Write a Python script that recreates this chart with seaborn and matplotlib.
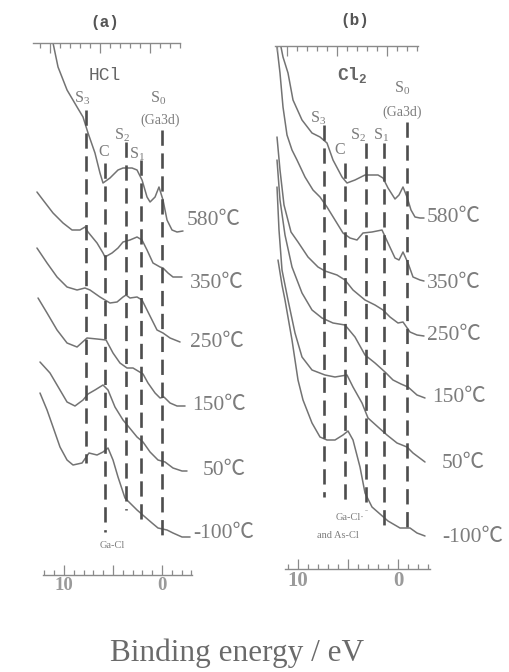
import numpy as np
import matplotlib
matplotlib.use("Agg")
import matplotlib.pyplot as plt
import seaborn as sns

sns.set_theme(style="white")
plt.rcParams["font.family"] = ["Liberation Serif", "Noto Sans CJK JP", "DejaVu Sans"]
plt.rcParams["mathtext.fontset"] = "custom"
plt.rcParams["mathtext.rm"] = "Liberation Serif"
plt.rcParams["lines.scale_dashes"] = False

# ---------------------------------------------------------------- data
temps = ["580℃", "350℃", "250℃", "150℃", "50℃", "-100℃"]
peak_names = ["S$_\\mathregular{3}$", "C", "S$_\\mathregular{2}$", "S$_\\mathregular{1}$"]

# (a) HCl exposure: binding energy (eV) and intensity (a.u., relative to curve offset)
hcl_e_580 = [11.12, 10.61, 9.69, 8.67, 8.06, 7.55, 6.84, 6.33, 6.02, 5.31, 4.49, 3.98, 3.06, 2.55,
             2.04, 1.53, 1.22, 0.71, 0.31, -0.10, -0.51, -1.02, -1.53, -2.14]
hcl_i_580 = [188, 164, 141, 124, 114, 98, 78, 58, 48, 53, 61, 63, 63, 61, 51, 34, 29, 34, 44, 31,
             11, 1, -1, 0]
hcl_e_350 = [12.76, 12.14, 11.12, 10.10, 9.18, 8.37, 7.86, 7.55, 6.63, 6.02, 5.82, 5.10, 4.49, 3.98,
             3.27, 2.55, 2.04, 1.53, 0.92, 0.20, -0.10, -0.61, -1.12, -2.04]
hcl_i_350 = [85, 77, 64, 54, 47, 47, 50, 45, 34, 24, 20, 24, 29, 35, 37, 40, 37, 27, 14, 10, 9, 4, 0, 0]
hcl_e_250 = [12.76, 11.73, 10.71, 9.69, 8.67, 7.86, 7.35, 6.33, 5.31, 4.59, 3.98, 3.67, 3.27, 2.55,
             2.04, 1.53, 1.02, 0.51, -0.10, -0.82, -1.84]
hcl_i_250 = [94, 79, 65, 55, 52, 54, 52, 45, 39, 40, 45, 47, 44, 45, 42, 32, 22, 12, 9, 4, 0]
hcl_e_150 = [12.65, 11.73, 10.71, 9.69, 8.67, 7.65, 6.63, 5.71, 5.00, 4.29, 3.57, 2.96, 1.94, 1.43,
             0.71, 0.20, -0.20, -0.82, -1.53, -2.35]
hcl_i_150 = [108, 93, 76, 63, 59, 68, 67, 66, 53, 43, 38, 38, 32, 23, 13, 8, 9, 3, 0, 0]
hcl_e_50 = [12.45, 11.43, 10.41, 9.69, 8.88, 8.06, 7.55, 6.84, 6.02, 5.51, 4.80, 3.98, 3.47, 2.55,
            1.94, 1.22, 0.41, -0.31, -1.12, -2.04, -2.55]
hcl_i_50 = [109, 98, 81, 69, 65, 71, 77, 81, 86, 81, 64, 51, 45, 34, 29, 19, 11, 9, 3, 0, 0]
hcl_e_m100 = [12.45, 11.73, 11.12, 10.41, 9.69, 9.08, 8.16, 7.45, 6.63, 6.02, 5.51, 5.00, 4.49, 3.78,
              3.27, 2.55, 1.73, 1.02, 0.41, -0.51, -1.12, -2.04, -2.86]
hcl_i_m100 = [144, 127, 110, 90, 77, 72, 74, 84, 82, 85, 89, 77, 60, 39, 34, 27, 20, 14, 9, 7, 4, 0, 0]
hcl_offsets = [344, 298, 233, 169, 104, 38]
hcl_peak_e = [7.8, 5.8, 3.7, 2.1, 0.0]

# (b) Cl2 exposure
cl2_e_580 = [11.7, 11.5, 11.0, 10.5, 9.6, 8.6, 7.8, 7.1, 6.5, 5.6, 5.1, 4.3, 3.3, 2.0, 1.5, 1.0,
             0.3, -0.1, -0.5, -0.9, -1.3, -1.7, -2.2, -2.6]
cl2_i_580 = [171, 161, 145, 118, 98, 85, 81, 75, 58, 41, 35, 38, 43, 43, 40, 30, 19, 23, 31, 21,
             8, 1, 0, 0]
cl2_e_350 = [12.1, 11.8, 11.5, 11.1, 10.6, 10.1, 9.3, 8.5, 7.8, 7.1, 6.3, 5.5, 4.8, 4.1, 3.5, 2.6,
             1.6, 1.0, 0.3, -0.1, -0.5, -1.0, -1.5, -2.2, -2.6]
cl2_i_350 = [234, 208, 174, 146, 131, 121, 104, 91, 84, 74, 61, 48, 43, 41, 48, 49, 51, 38, 23, 21,
             29, 18, 4, 1, 0]
cl2_e_250 = [12.1, 11.8, 11.4, 10.7, 10.0, 9.0, 8.0, 7.3, 6.1, 5.3, 4.5, 3.3, 2.3, 1.5, 0.8, 0.0,
             -0.5, -1.2, -1.9, -2.6]
cl2_i_250 = [199, 166, 131, 104, 94, 79, 69, 65, 61, 56, 46, 36, 31, 26, 19, 13, 14, 4, 1, 0]
cl2_e_150 = [12.1, 11.8, 11.3, 10.6, 9.6, 8.6, 7.6, 6.5, 5.3, 4.3, 3.3, 2.3, 1.3, 0.5, -0.3, -1.0,
             -1.9, -2.7]
cl2_i_150 = [238, 198, 163, 131, 105, 88, 80, 75, 73, 61, 43, 35, 26, 18, 14, 11, 3, 0]
cl2_e_50 = [12.1, 11.9, 11.6, 11.0, 10.3, 9.6, 8.6, 7.3, 6.3, 5.1, 4.5, 3.6, 3.0, 2.0, 1.1, 0.1,
            -0.9, -1.5, -2.7]
cl2_i_50 = [275, 232, 192, 162, 129, 105, 92, 87, 85, 87, 75, 59, 44, 35, 27, 19, 15, 9, 0]
cl2_e_m100 = [12.0, 11.6, 11.3, 10.6, 10.3, 10.0, 9.5, 8.6, 7.8, 7.1, 6.3, 5.5, 5.0, 4.5, 3.8, 3.3,
              2.6, 1.8, 1.0, -0.2, -1.2, -1.9, -2.7]
cl2_i_m100 = [276, 251, 236, 196, 176, 156, 136, 113, 99, 96, 96, 101, 105, 96, 69, 43, 29, 22, 15,
              8, 8, 3, 0]
cl2_offsets = [351, 288, 233, 171, 107, 33]
cl2_peak_e = [7.45, 5.3, 3.2, 1.4, -0.95]

# ---------------------------------------------------------------- style
CURVE = "#737373"
DASH = "#4d4d4d"
TXT = "#7c7c7c"
RULER = "#8a8a8a"
PX = 72 / 100  # points per pixel at 100 dpi

fig = plt.figure(figsize=(5.09, 6.72), dpi=100)
fig.patch.set_facecolor("white")


def ruler(ax, lo, hi, labels, direction, labelsize):
    for s in ("left", "right", "top"):
        ax.spines[s].set_visible(False)
    sp = ax.spines["bottom"]
    sp.set_bounds(lo, hi)
    sp.set_color(RULER)
    sp.set_linewidth(1.0)
    ax.set_yticks([])
    ax.set_xticks([10, 5, 0], labels=labels)
    ax.set_xticks(np.arange(np.ceil(hi), np.floor(lo) + 1), minor=True)
    ax.tick_params(axis="x", which="both", direction=direction, color=RULER, width=0.9,
                   bottom=True, labelsize=labelsize, labelcolor="#9a9a9a", pad=1.5)
    ax.tick_params(axis="x", which="major", length=7)
    ax.tick_params(axis="x", which="minor", length=3.5)
    for t in ax.get_xticklabels():
        t.set_fontweight("bold")


def panel(rect, xlim, ylim, lo, top_rect, top_xlim, energies, intens, offsets,
          gaps, peak_e, spans, labelsize):
    ax = fig.add_axes(rect)
    ax.set_facecolor("none")
    ax.set_xlim(*xlim)
    ax.set_ylim(*ylim)
    ruler(ax, lo, xlim[1], ["10", "", "0"], "in", labelsize)

    for e, i, off, lab, (dx, dy) in zip(energies, intens, offsets, temps, gaps):
        y = np.asarray(i, dtype=float) + off
        sns.lineplot(x=e, y=y, sort=False, estimator=None, ax=ax, color=CURVE, lw=1.1)
        ax.annotate(lab, (e[-1], y[-1]), xytext=(dx * PX, dy * PX), textcoords="offset points",
                    ha="left", va="center", fontsize=15.5, color=TXT, annotation_clip=False)

    for pe, (ytop, ybot) in zip(peak_e, spans):
        ax.plot([pe, pe], [ytop, ybot], color=DASH, lw=1.9, dashes=(11, 5.5), clip_on=False)

    top = fig.add_axes(top_rect)
    top.set_facecolor("none")
    top.set_xlim(*top_xlim)
    ruler(top, top_xlim[0], top_xlim[1], ["", "", ""], "out", labelsize)
    top.tick_params(axis="x", labelbottom=False)
    return ax


W, H = 509, 672

# ------------------------------------------------------------ panel (a)
ax_a = panel(
    rect=[34.6 / W, 97 / H, 157.8 / W, 532 / H], xlim=(13.0, -3.1), ylim=(0, 532), lo=12.1,
    top_rect=[33 / W, (H - 43) / H, 147 / W, 0.0001], top_xlim=(11.7, -3.0),
    energies=[hcl_e_580, hcl_e_350, hcl_e_250, hcl_e_150, hcl_e_50, hcl_e_m100],
    intens=[hcl_i_580, hcl_i_350, hcl_i_250, hcl_i_150, hcl_i_50, hcl_i_m100],
    offsets=hcl_offsets,
    gaps=[(4, 11), (8, -6), (10, 0), (7, 1), (16, 1), (3, 4)],
    peak_e=hcl_peak_e,
    spans=[(465, 112), (412, 43), (433, 65), (415, 53), (445, 37)],
    labelsize=13.5,
)
ax_a.text(5.8, 553, "(a)", family="Liberation Mono", fontweight="bold", fontsize=11.5,
          color="#555555", ha="center", va="center")
ax_a.text(5.8, 500, "HCl", family="Liberation Mono", fontsize=13, color="#666666",
          ha="center", va="center")
for name, ex, yy in zip(peak_names, [8.2, 6.0, 4.1, 2.6], [477, 423, 440, 421]):
    ax_a.text(ex, yy, name, fontsize=11.5, color=TXT, ha="center", va="center")
ax_a.text(0.4, 477, "S$_\\mathregular{0}$", fontsize=11.5, color=TXT, ha="center", va="center")
ax_a.text(0.2, 455, "(Ga3d)", fontsize=10, color=TXT, ha="center", va="center")
ax_a.text(5.1, 30, "Ga-Cl", fontsize=7.5, color=TXT, ha="center", va="center")

# ------------------------------------------------------------ panel (b)
ax_b = panel(
    rect=[275 / W, 103 / H, 155 / W, 523 / H], xlim=(12.3, -3.2), ylim=(0, 523), lo=11.3,
    top_rect=[275 / W, (H - 46) / H, 143 / W, 0.0001], top_xlim=(11.2, -3.1),
    energies=[cl2_e_580, cl2_e_350, cl2_e_250, cl2_e_150, cl2_e_50, cl2_e_m100],
    intens=[cl2_i_580, cl2_i_350, cl2_i_250, cl2_i_150, cl2_i_50, cl2_i_m100],
    offsets=cl2_offsets,
    gaps=[(3, 0), (3, -2), (3, 1), (7, 0), (17, -1), (17, -1)],
    peak_e=cl2_peak_e,
    spans=[(444, 72), (406, 66), (426, 59), (426, 42), (447, 36)],
    labelsize=15,
)
ax_b.text(4.3, 549, "(b)", family="Liberation Mono", fontweight="bold", fontsize=11.5,
          color="#555555", ha="center", va="center")
ax_b.text(4.6, 494, "Cl$_\\mathregular{2}$", family="Liberation Mono", fontweight="bold",
          fontsize=13, color="#666666", ha="center", va="center")
for name, ex, yy in zip(peak_names, [8.0, 5.8, 4.0, 1.7], [451, 419, 434, 434]):
    ax_b.text(ex, yy, name, fontsize=11.5, color=TXT, ha="center", va="center")
ax_b.text(-0.4, 481, "S$_\\mathregular{0}$", fontsize=11.5, color=TXT, ha="center", va="center")
ax_b.text(-0.4, 457, "(Ga3d)", fontsize=10, color=TXT, ha="center", va="center")
ax_b.text(4.8, 51, "Ga-Cl·", fontsize=7.5, color=TXT, ha="center", va="center")
ax_b.text(6.0, 34, "and As-Cl", fontsize=7.5, color=TXT, ha="center", va="center")

fig.text(237 / W, 1 - 653 / H, "Binding energy / eV", fontsize=22.5, color="#6a6a6a",
         ha="center", va="center")

fig.savefig("out.png", dpi=100, facecolor="white")
